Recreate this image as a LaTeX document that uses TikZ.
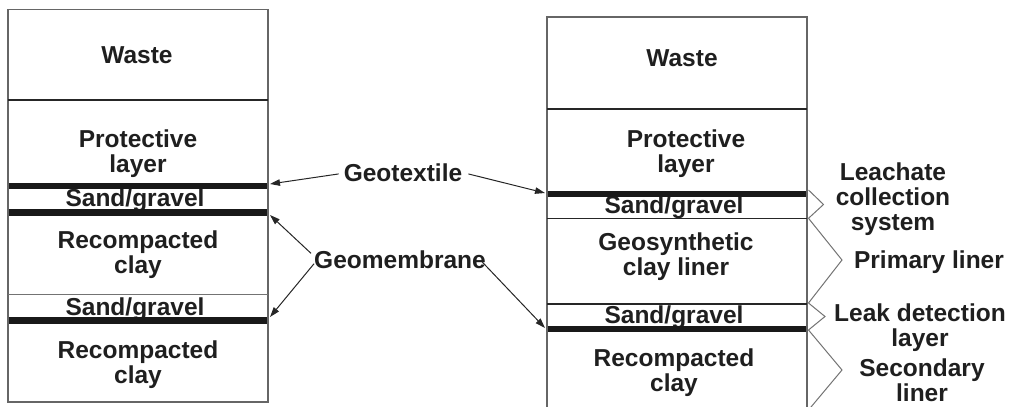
\documentclass[tikz,border=0pt]{standalone}
\usepackage{fontspec}
\setmainfont{Liberation Sans}
\usetikzlibrary{arrows.meta}
\begin{document}
\begin{tikzpicture}[x=1pt,y=-1pt,
  lbl/.style={font=\fontsize{24.5}{25}\selectfont\bfseries, align=center, inner sep=0pt, text=black!88, anchor=base},
  frame/.style={draw=black!60, line width=1.4pt},
  sep/.style={draw=black!85, line width=1.2pt},
  heavy/.style={draw=black!90, line width=6.8pt},
  arr/.style={draw=black!85, line width=1pt, -{Triangle[length=10pt,width=6.5pt]}},
  brc/.style={draw=black!55, line width=1pt, line join=miter}]
\useasboundingbox (0,0) rectangle (1013,407);

% ---------- left column ----------
\draw[frame] (8,9.5) rectangle (268,402);
\node[lbl] (lw) at (137,63) {Waste};
\node[lbl] (lp) at (138,172) {Protective\\layer};
\node[lbl] (ls1) at (135,206.5) {Sand/gravel};
\node[lbl] (lr1) at (138,273) {Recompacted\\clay};
\node[lbl] (ls2) at (135,315) {Sand/gravel};
\node[lbl] (lr2) at (138,383) {Recompacted\\clay};
\draw[sep] (8,100) -- (268,100);
\draw[heavy] (8.7,186) -- (267.3,186);
\draw[heavy] (8.7,212.3) -- (267.3,212.3);
\draw[sep, draw=black!55] (8,294.5) -- (268,294.5);
\draw[heavy] (8.7,320.5) -- (267.3,320.5);

% ---------- right column ----------
\draw[frame] (547,410) -- (547,17) -- (807,17) -- (807,410);
\node[lbl] (rw) at (682,66) {Waste};
\node[lbl] (rp) at (686,172) {Protective\\layer};
\node[lbl] (rs1) at (674,213) {Sand/gravel};
\node[lbl] (rg) at (676,275) {Geosynthetic\\clay liner};
\node[lbl] (rs2) at (674,323) {Sand/gravel};
\node[lbl] (rr) at (674,391) {Recompacted\\clay};
\draw[sep] (547,109) -- (807,109);
\draw[heavy] (547.7,194) -- (806.3,194);
\draw[sep] (547,218.3) -- (807,218.3);
\draw[sep] (547,304) -- (807,304);
\draw[heavy] (547.7,329) -- (806.3,329);

% ---------- connector coordinates ----------
\coordinate (gtL) at (270,184);
\coordinate (gtR) at (545,193);
\coordinate (gmL1) at (270,215);
\coordinate (gmL2) at (270,317);
\coordinate (gmR) at (545,328);

% ---------- middle labels ----------
\node[lbl] (gt) at (403,181.7) {Geotextile};
\node[lbl] (gm) at (400,268.3) {Geomembrane};
\draw[arr] ([xshift=-5pt,yshift=-1pt]gt.west) -- (gtL);
\draw[arr] ([xshift=6pt,yshift=-1pt]gt.east) -- (gtR);
\draw[arr] ([xshift=-3pt,yshift=-3pt]gm.north west) -- (gmL1);
\draw[arr] ([xshift=0pt,yshift=5pt]gm.south west) -- (gmL2);
\draw[arr] ([xshift=-4pt,yshift=7pt]gm.south east) -- (gmR);

% ---------- braces ----------
\coordinate (b0) at (808.5,190);
\coordinate (b1) at (808.5,218.3);
\coordinate (b2) at (808.5,303);
\coordinate (b3) at (808.5,330);
\coordinate (b4) at (808.5,410);
\draw[brc] (b0) -- (823.5,204.5) -- (b1);
\draw[brc] (b1) -- (842,260) -- (b2);
\draw[brc] (b2) -- (825,316.5) -- (b3);
\draw[brc] (b3) -- (842,370) -- (b4);

% ---------- right labels ----------
\node[lbl] (lc) at (893,230) {Leachate\\collection\\system};
\node[lbl] (pl) at (929,268) {Primary liner};
\node[lbl] (ld) at (920,346.7) {Leak detection\\layer};
\node[lbl] (sl) at (922,401.7) {Secondary\\liner};
\end{tikzpicture}
\end{document}
